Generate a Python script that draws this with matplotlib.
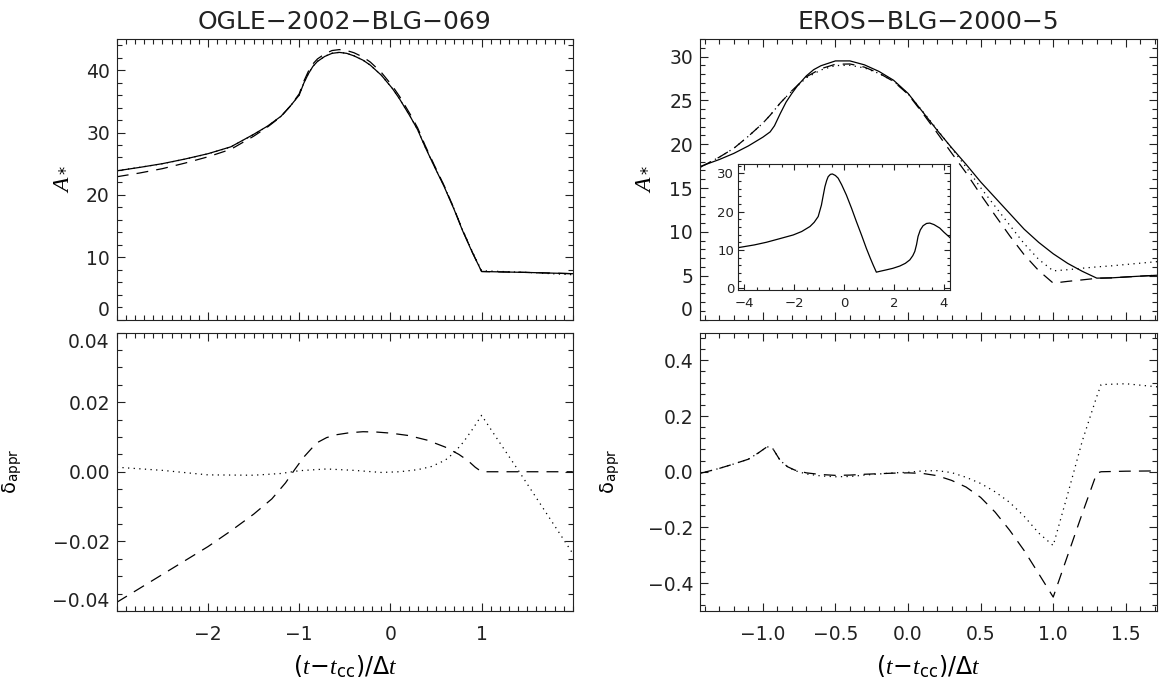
import matplotlib
matplotlib.use('Agg')
import matplotlib.pyplot as plt
from matplotlib.ticker import FixedLocator, MultipleLocator, FuncFormatter

# ---- OGLE-2002-BLG-069 (left column) ----
ogle_x = [-3.0, -2.75, -2.5, -2.25, -2.0, -1.75, -1.5, -1.35, -1.2, -1.1, -1.0, -0.95, -0.9,
          -0.85, -0.8, -0.72, -0.64, -0.56, -0.48, -0.4, -0.3, -0.22, -0.1, 0.02, 0.1, 0.22,
          0.3, 0.38, 0.48, 0.59, 0.7, 0.79, 0.9, 1.0, 1.5, 2.0]
ogle_exact = [23.85, 24.4, 25.0, 25.75, 26.6, 27.7, 29.7, 31.0, 32.6, 34.2, 36.0, 37.9, 39.4,
              40.6, 41.4, 42.2, 42.7, 42.85, 42.7, 42.3, 41.6, 40.8, 39.2, 37.1, 35.4, 32.5,
              30.4, 27.7, 24.6, 21.3, 17.6, 14.3, 10.7, 7.7, 7.55, 7.35]
ogle_dash = [22.9, 23.5, 24.2, 25.1, 26.1, 27.3, 29.4, 30.85, 32.55, 34.2, 36.2, 38.2, 39.8,
             41.0, 41.8, 42.6, 43.15, 43.3, 43.15, 42.8, 42.1, 41.3, 39.65, 37.5, 35.8, 32.85,
             30.7, 27.95, 24.8, 21.45, 17.7, 14.38, 10.74, 7.7, 7.55, 7.35]
ogle_dot = [23.88, 24.41, 24.99, 25.73, 26.58, 27.67, 29.67, 30.98, 32.59, 34.2, 36.01, 37.92, 39.43,
            40.63, 41.43, 42.23, 42.72, 42.86, 42.71, 42.31, 41.6, 40.8, 39.2, 37.1, 35.4, 32.51,
            30.42, 27.74, 24.66, 21.39, 17.7, 14.43, 10.83, 7.82, 7.55, 7.18]

ogle_dx = [-3.0, -2.75, -2.5, -2.25, -2.0, -1.75, -1.5, -1.3, -1.15, -1.05, -0.95, -0.85, -0.8,
           -0.7, -0.6, -0.45, -0.3, -0.15, 0.0, 0.2, 0.4, 0.6, 0.75, 0.85, 0.93, 1.0, 1.5, 2.0]
ogle_ddash = [-0.0375, -0.0335, -0.0295, -0.0255, -0.0215, -0.017, -0.0122, -0.0078, -0.0032,
              0.0006, 0.0042, 0.0071, 0.0084, 0.0098, 0.0106, 0.0112, 0.0115, 0.0114, 0.0111,
              0.0104, 0.0091, 0.0071, 0.005, 0.0032, 0.0013, 0.0, 0.0, 0.0]
ogle_px = [-3.0, -2.5, -2.0, -1.5, -1.2, -1.0, -0.7, -0.4, -0.1, 0.1, 0.3, 0.45, 0.6, 0.7,
           0.8, 0.9, 1.0, 1.2, 1.4, 1.6, 1.8, 2.0]
ogle_ddot = [0.0013, 0.0004, -0.0009, -0.001, -0.0005, 0.0003, 0.0008, 0.0004, -0.0002, 0.0,
             0.0006, 0.0015, 0.0033, 0.0055, 0.0085, 0.0122, 0.0162, 0.0083, 0.0005, -0.0075,
             -0.0155, -0.0235]

# ---- EROS-BLG-2000-5 (right column) ----
eros_x = [-1.433, -1.3, -1.2, -1.1, -1.0, -0.95, -0.92, -0.88, -0.84, -0.8, -0.76, -0.7, -0.65,
          -0.6, -0.5, -0.4, -0.3, -0.2, -0.1, 0.0, 0.1, 0.2, 0.3, 0.4, 0.5, 0.6, 0.7, 0.8, 0.9,
          1.0, 1.1, 1.2, 1.3, 1.4, 1.55, 1.715]
eros_exact = [17.45, 18.25, 18.95, 19.8, 20.8, 21.4, 22.1, 23.5, 24.8, 25.8, 26.7, 27.8, 28.5,
              28.95, 29.5, 29.5, 29.05, 28.3, 27.3, 25.8, 23.7, 21.6, 19.6, 17.7, 15.7, 13.9,
              12.1, 10.3, 8.8, 7.5, 6.4, 5.5, 4.72, 4.75, 4.9, 5.05]

eros_ax = [-1.433, -1.3, -1.2, -1.1, -1.0, -0.95, -0.92, -0.88, -0.84, -0.8, -0.7, -0.6, -0.5,
           -0.4, -0.3, -0.2, -0.1, 0.0, 0.1, 0.2, 0.3, 0.4, 0.5, 0.6, 0.7, 0.8, 0.9, 1.0, 1.1,
           1.2, 1.3, 1.4, 1.55, 1.715]
eros_dash = [17.35, 18.52, 19.53, 20.9, 22.4, 23.3, 23.9, 24.7, 25.4, 26.1, 27.69, 28.61,
             29.12, 29.15, 28.79, 28.1, 27.16, 25.7, 23.56, 21.3, 18.99, 16.73, 14.26, 11.88,
             9.56, 7.39, 5.58, 4.15, 4.35, 4.52, 4.7, 4.75, 4.9, 5.05]
eros_dot = [17.35, 18.52, 19.53, 20.9, 22.4, 23.3, 23.9, 24.7, 25.4, 26.05, 27.58, 28.47,
            28.97, 29.0, 28.7, 28.07, 27.19, 25.75, 23.77, 21.69, 19.54, 17.38, 15.04, 12.9,
            10.77, 8.65, 6.86, 5.55, 5.68, 5.85, 6.0, 6.12, 6.35, 6.6]

eros_dx = [-1.433, -1.3, -1.2, -1.1, -1.03, -0.97, -0.93, -0.88, -0.83, -0.78, -0.7, -0.6, -0.5,
           -0.4, -0.3, -0.2, -0.1, 0.0, 0.1, 0.2, 0.3, 0.4, 0.5, 0.6, 0.7, 0.8, 0.9, 1.0, 1.1,
           1.2, 1.3, 1.33, 1.5, 1.715]
eros_ddash = [-0.006, 0.012, 0.028, 0.045, 0.068, 0.09, 0.082, 0.04, 0.018, 0.006, -0.004, -0.01,
              -0.013, -0.012, -0.009, -0.007, -0.005, -0.004, -0.006, -0.014, -0.031, -0.055,
              -0.092, -0.145, -0.21, -0.283, -0.366, -0.45, -0.3, -0.15, -0.005, 0.0, 0.002, 0.003]
eros_ddot = [-0.006, 0.012, 0.028, 0.045, 0.068, 0.09, 0.082, 0.04, 0.018, 0.004, -0.008, -0.015,
             -0.018, -0.017, -0.012, -0.008, -0.004, -0.002, 0.003, 0.004, -0.003, -0.02,
             -0.042, -0.072, -0.11, -0.16, -0.22, -0.265, -0.08, 0.11, 0.27, 0.313, 0.316, 0.305]

# inset: full light curve of EROS-BLG-2000-5
inset_x = [-4.24, -3.6, -3.11, -2.6, -2.04, -1.7, -1.37, -1.2, -1.04, -0.91, -0.85, -0.77, -0.7,
           -0.64, -0.55, -0.47, -0.35, -0.24, -0.1, 0.09, 0.3, 0.49, 0.7, 0.89, 1.05, 1.16, 1.29,
           1.45, 1.69, 1.95, 2.23, 2.45, 2.63, 2.75, 2.83, 2.9, 2.96, 3.05, 3.16, 3.3, 3.43, 3.6,
           3.83, 4.0, 4.24]
inset_y = [10.6, 11.3, 12.0, 12.9, 13.9, 14.8, 16.1, 17.2, 18.7, 21.7, 23.8, 26.5, 28.1, 29.1,
           29.7, 29.8, 29.4, 28.7, 27.0, 24.3, 20.8, 17.4, 13.8, 10.4, 7.8, 6.1, 4.2, 4.45, 4.8,
           5.2, 5.8, 6.5, 7.4, 8.5, 9.6, 11.4, 13.5, 15.2, 16.3, 16.9, 17.0, 16.6, 15.7, 14.6, 13.2]

titles = ['OGLE\u22122002\u2212BLG\u2212069', 'EROS\u2212BLG\u22122000\u22125']

plt.rcParams['font.family'] = ['DejaVu Sans']
plt.rcParams['mathtext.fontset'] = 'custom'
plt.rcParams['mathtext.rm'] = 'DejaVu Sans'
plt.rcParams['mathtext.it'] = 'Liberation Serif:italic'
plt.rcParams['mathtext.bf'] = 'DejaVu Sans:bold'
plt.rcParams['text.color'] = '#222222'
plt.rcParams['xtick.labelcolor'] = '#222222'
plt.rcParams['ytick.labelcolor'] = '#222222'

W, H = 1159, 677
fig = plt.figure(figsize=(W / 100, H / 100), dpi=100)
ax_tl = fig.add_axes([116.8 / W, 1 - 319.5 / H, 456 / W, 280.5 / H])
ax_bl = fig.add_axes([116.8 / W, 1 - 611 / H, 456 / W, 278.5 / H])
ax_tr = fig.add_axes([700 / W, 1 - 319.5 / H, 457 / W, 280.5 / H])
ax_br = fig.add_axes([700 / W, 1 - 611 / H, 457 / W, 278.5 / H])
ax_in = fig.add_axes([738.3 / W, 1 - 290 / H, 211.7 / W, 126 / H])

lw = 0.9
dash = (0, (9.5, 6.5))
dot = (0, (1.0, 3.5))


def fmt(nd):
    return FuncFormatter(lambda v, p: ('%.*f' % (nd, v)).replace('-', '\u2212'))


def style(ax, labsize=13.5, major=6, minor=3.5, xpad=10, ypad=5):
    for s in ax.spines.values():
        s.set_linewidth(0.8)
        s.set_color('#222222')
    ax.tick_params(which='both', direction='in', top=True, right=True, color='#222222', width=0.8)
    ax.tick_params(which='major', length=major, labelsize=labsize)
    ax.tick_params(which='minor', length=minor)
    ax.tick_params(axis='x', which='major', pad=xpad)
    ax.tick_params(axis='y', which='major', pad=ypad)


# top left
ax_tl.plot(ogle_x, ogle_exact, color='k', lw=lw)
ax_tl.plot(ogle_x, ogle_dash, color='k', lw=lw, ls=dash)
ax_tl.plot(ogle_x, ogle_dot, color='k', lw=lw, ls=dot)
ax_tl.set_xlim(-3, 2)
ax_tl.set_ylim(0, 45)
ax_tl.yaxis.set_major_locator(FixedLocator([0, 10, 20, 30, 40]))
ax_tl.yaxis.set_minor_locator(MultipleLocator(2))
ax_tl.yaxis.set_major_formatter(fmt(0))

# bottom left
ax_bl.plot(ogle_dx, ogle_ddash, color='k', lw=lw, ls=dash)
ax_bl.plot(ogle_px, ogle_ddot, color='k', lw=lw, ls=dot)
ax_bl.set_xlim(-3, 2)
ax_bl.set_ylim(-0.04, 0.04)
ax_bl.yaxis.set_major_locator(FixedLocator([-0.04, -0.02, 0.0, 0.02, 0.04]))
ax_bl.yaxis.set_minor_locator(MultipleLocator(0.005))
ax_bl.yaxis.set_major_formatter(fmt(2))

for ax in (ax_tl, ax_bl):
    ax.xaxis.set_major_locator(FixedLocator([-2, -1, 0, 1]))
    ax.xaxis.set_minor_locator(MultipleLocator(0.1))
    ax.xaxis.set_major_formatter(fmt(0))

# top right
ax_tr.plot(eros_x, eros_exact, color='k', lw=lw)
ax_tr.plot(eros_ax, eros_dash, color='k', lw=lw, ls=dash)
ax_tr.plot(eros_ax, eros_dot, color='k', lw=lw, ls=dot)
ax_tr.set_ylim(0, 32)
ax_tr.yaxis.set_major_locator(FixedLocator([0, 5, 10, 15, 20, 25, 30]))
ax_tr.yaxis.set_minor_locator(MultipleLocator(1))
ax_tr.yaxis.set_major_formatter(fmt(0))

# bottom right
ax_br.plot(eros_dx, eros_ddash, color='k', lw=lw, ls=dash)
ax_br.plot(eros_dx, eros_ddot, color='k', lw=lw, ls=dot)
ax_br.set_ylim(-0.5, 0.5)
ax_br.yaxis.set_major_locator(FixedLocator([-0.4, -0.2, 0.0, 0.2, 0.4]))
ax_br.yaxis.set_minor_locator(MultipleLocator(0.04))
ax_br.yaxis.set_major_formatter(fmt(1))

for ax in (ax_tr, ax_br):
    ax.set_xlim(-1.433, 1.715)
    ax.xaxis.set_major_locator(FixedLocator([-1.0, -0.5, 0.0, 0.5, 1.0, 1.5]))
    ax.xaxis.set_minor_locator(MultipleLocator(0.1))
    ax.xaxis.set_major_formatter(fmt(1))

for ax in (ax_tl, ax_bl, ax_tr, ax_br):
    style(ax)
for ax in (ax_tl, ax_tr):
    ax.tick_params(labelbottom=False)

ax_tl.set_title(titles[0], fontsize=18, pad=7)
ax_tr.set_title(titles[1], fontsize=18, pad=7)

ax_tl.set_ylabel(r'$A_*$', fontsize=17)
ax_tr.set_ylabel(r'$A_*$', fontsize=17)
ax_bl.set_ylabel(r'$\mathrm{\delta}_{\mathrm{appr}}$', fontsize=14)
ax_br.set_ylabel(r'$\mathrm{\delta}_{\mathrm{appr}}$', fontsize=14)
ax_tl.yaxis.set_label_coords(-0.10, 0.5)
ax_tr.yaxis.set_label_coords(-0.103, 0.5)
ax_bl.yaxis.set_label_coords(-0.203, 0.5)
ax_br.yaxis.set_label_coords(-0.171, 0.5)

xlab = r'$(t\!-\!t_{\mathrm{cc}})/\Delta t$'
ax_bl.set_xlabel(xlab, fontsize=17)
ax_br.set_xlabel(xlab, fontsize=17)
ax_bl.xaxis.set_label_coords(0.5, -0.15)
ax_br.xaxis.set_label_coords(0.5, -0.15)

# inset
ax_in.plot(inset_x, inset_y, color='k', lw=lw)
ax_in.set_xlim(-4.24, 4.24)
ax_in.set_ylim(-0.45, 32.4)
ax_in.xaxis.set_major_locator(FixedLocator([-4, -2, 0, 2, 4]))
ax_in.xaxis.set_minor_locator(MultipleLocator(0.5))
ax_in.yaxis.set_major_locator(FixedLocator([0, 10, 20, 30]))
ax_in.yaxis.set_minor_locator(MultipleLocator(2))
ax_in.xaxis.set_major_formatter(fmt(0))
ax_in.yaxis.set_major_formatter(fmt(0))
style(ax_in, labsize=9.5, major=4, minor=2, xpad=5, ypad=3)

# IDL pulls the labels at the axis ends inside the frame
fig.canvas.draw()
ax_tl.yaxis.get_major_ticks()[0].label1.set_va('bottom')
ax_tr.yaxis.get_major_ticks()[0].label1.set_va('bottom')
ax_bl.yaxis.get_major_ticks()[0].label1.set_va('bottom')
ax_bl.yaxis.get_major_ticks()[-1].label1.set_va('top')

fig.savefig('out.png', dpi=100)
